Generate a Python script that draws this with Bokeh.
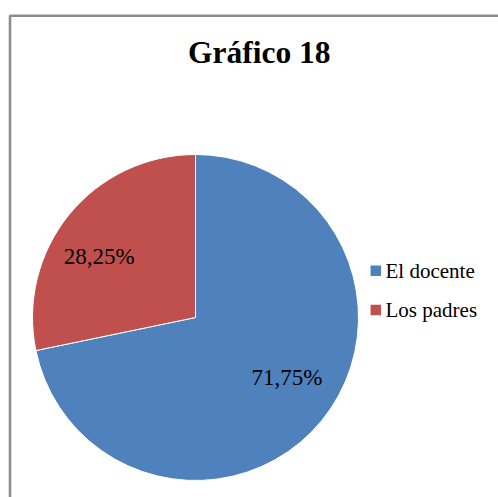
import math
from bokeh.plotting import figure
from bokeh.models import Range1d, ColumnDataSource
from bokeh.core.properties import value
from bokeh.embed import file_html
from bokeh.resources import INLINE

# ---- data ----
title_text = "Gráfico 18"
categories = ["El docente", "Los padres"]
percents = [71.75, 28.25]
label_texts = ["71,75%", "28,25%"]
colors = ["#4F81BD", "#C0504D"]

SERIF = "Times New Roman"

W, H = 498, 497
p = figure(width=W, height=H, output_backend="svg", toolbar_location=None,
           x_range=Range1d(0, W), y_range=Range1d(0, H),
           min_border=0, outline_line_color=None)
p.axis.visible = False
p.grid.visible = False
p.background_fill_color = "white"
p.border_fill_color = "white"

# chart frame (extends beyond page right/bottom)
p.line(x=[9.5, 9.5, 700], y=[-20, 481.7, 481.7], line_color="#8c8c8c", line_width=2.6)

# pie
cx, cy, R = 195, 180, 163
total = sum(percents)
starts, ends, mids = [], [], []
a = math.pi / 2
for v in percents:
    span = 2 * math.pi * v / total
    # clockwise from top
    starts.append(a - span)
    ends.append(a)
    mids.append(a - span / 2)
    a -= span
src = ColumnDataSource(dict(start=starts, end=ends, color=colors, cat=categories))
p.wedge(x=cx, y=cy, radius=R, start_angle="start", end_angle="end",
        fill_color="color", line_color="white", line_width=1, source=src)

# data labels
rx, ry = 121, 96
lx = [cx - 2.5 + rx * math.cos(m) for m in mids]
ly = [cy + ry * math.sin(m) + 0.5 for m in mids]
p.text(x=lx, y=ly, text=label_texts, text_font=value(SERIF),
       text_font_size="23px", text_align="center", text_baseline="alphabetic",
       text_color="black")

# title
p.text(x=[258.8], y=[445], text=[title_text], text_font=value(SERIF),
       text_font_size="31.5px", text_font_style="bold", text_align="center",
       text_baseline="alphabetic", text_color="black")

# legend
leg_y = [226.7 - 39.2 * i for i in range(len(categories))]
p.scatter(x=[375.3] * len(categories), y=leg_y, marker="square", size=10.5,
          fill_color=colors, line_color=None)
p.text(x=[385] * len(categories), y=[yy + 0.3 for yy in leg_y], text=categories,
       text_font=value(SERIF), text_font_size="21px",
       text_align="left", text_baseline="alphabetic", text_color="black")

open("out.html", "w").write(file_html(p, INLINE))
